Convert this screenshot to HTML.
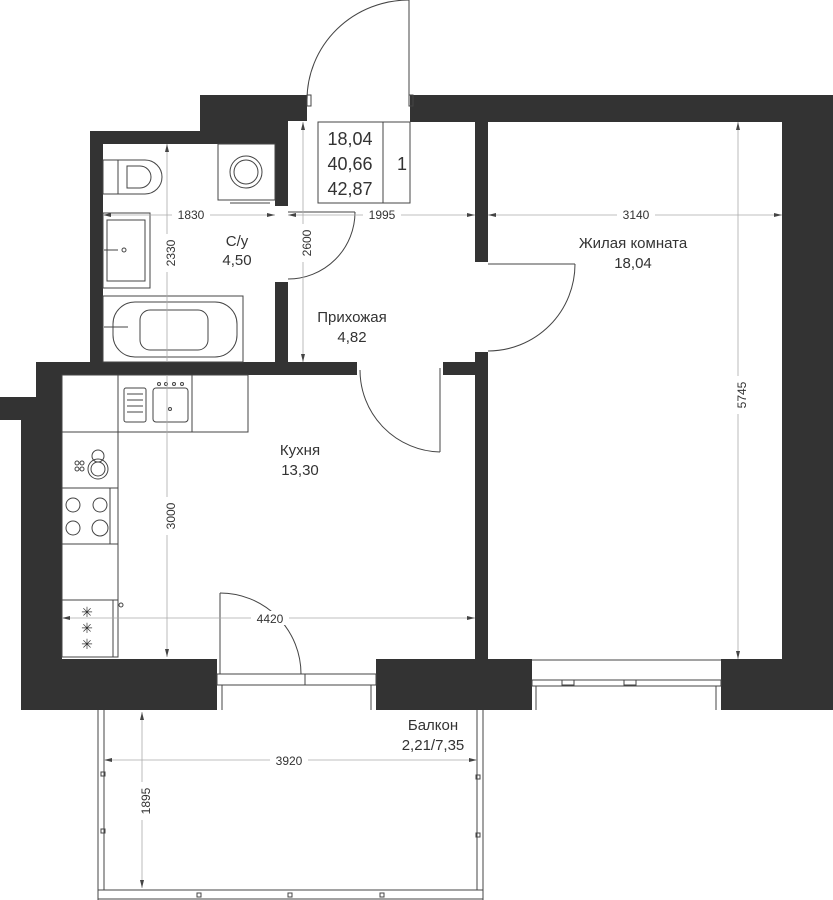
<!DOCTYPE html>
<html><head><meta charset="utf-8"><style>
html,body{margin:0;padding:0;background:#fff;}
svg{display:block;}
text{font-family:"Liberation Sans",sans-serif;fill:#333;}
</style></head><body>
<svg width="833" height="900" viewBox="0 0 833 900" xmlns="http://www.w3.org/2000/svg">
<g fill="#333">
  <!-- top-left block & bathroom -->
  <rect x="200" y="95" width="107" height="26"/>
  <rect x="90" y="131" width="198" height="13"/>
  <rect x="200" y="118" width="88" height="14"/>
  <rect x="90" y="131" width="13" height="231"/>
  <rect x="275" y="118" width="13" height="88"/>
  <rect x="275" y="282" width="13" height="80"/>
  <!-- top right wall -->
  <rect x="410" y="95" width="423" height="27"/>
  <rect x="782" y="95" width="51" height="615"/>
  <!-- partition hall/living -->
  <rect x="475" y="122" width="13" height="140"/>
  <rect x="475" y="352" width="13" height="308"/>
  <rect x="443" y="362" width="45" height="13"/>
  <!-- kitchen top wall -->
  <rect x="36" y="362" width="321" height="13"/>
  <rect x="36" y="362" width="26" height="36"/>
  <rect x="0" y="397" width="62" height="23"/>
  <rect x="21" y="397" width="41" height="313"/>
  <!-- bottom wall -->
  <rect x="21" y="659" width="196" height="51"/>
  <rect x="376" y="659" width="156" height="51"/>
  <rect x="721" y="659" width="112" height="51"/>
</g>
<g fill="none" stroke="#444" stroke-width="1">
  <!-- windows -->
  <rect x="217" y="674" width="159" height="11"/><line x1="305" y1="674" x2="305" y2="685"/>
  <line x1="222" y1="685" x2="222" y2="710"/><line x1="371" y1="685" x2="371" y2="710"/>
  <rect x="532" y="680" width="189" height="6"/>
  <line x1="532" y1="660" x2="721" y2="660"/>
  <line x1="536" y1="686" x2="536" y2="710"/><line x1="716" y1="686" x2="716" y2="710"/>
  <rect x="562" y="680" width="12" height="5"/><rect x="624" y="680" width="12" height="5"/>
  <!-- entry door -->
  <line x1="409" y1="0" x2="409" y2="100"/>
  <path d="M409 0 A102 100 0 0 0 307 100"/>
  <rect x="307" y="95" width="4" height="11"/><rect x="409" y="95" width="4" height="11"/>
  <!-- bathroom door -->
  <line x1="288" y1="212" x2="355" y2="212"/>
  <path d="M355 212 A67 67 0 0 1 288 279"/>
  <!-- living door -->
  <line x1="488" y1="264" x2="575" y2="264"/>
  <path d="M575 264 A87 87 0 0 1 488 351"/>
  <!-- hall->kitchen door -->
  <line x1="440" y1="368" x2="440" y2="452"/>
  <path d="M360 370 A82 82 0 0 0 440 452"/>
  <!-- kitchen balcony door -->
  <line x1="220" y1="593" x2="220" y2="674"/>
  <path d="M220 593 A81 81 0 0 1 301 674"/>
  <!-- info box -->
  <rect x="318" y="122" width="92" height="81"/><line x1="383" y1="122" x2="383" y2="203"/>
  <!-- toilet -->
  <rect x="103" y="160" width="15" height="34"/>
  <path d="M118 160 H145 A17 17 0 0 1 145 194 H118"/>
  <path d="M127 166 H140 A10 10 0 0 1 140 188 H127 Z"/>
  <!-- washing machine -->
  <rect x="218" y="144" width="57" height="56"/>
  <circle cx="246" cy="172" r="16"/><circle cx="246" cy="172" r="12"/>
  <line x1="230" y1="203" x2="270" y2="203"/>
  <!-- bathroom sink -->
  <rect x="103" y="213" width="47" height="75"/><rect x="107" y="220" width="38" height="61"/>
  <line x1="104" y1="250" x2="118" y2="250"/><circle cx="124" cy="250" r="2"/>
  <!-- bath -->
  <rect x="103" y="296" width="140" height="66"/>
  <rect x="113" y="302" width="124" height="55" rx="22"/>
  <rect x="140" y="310" width="68" height="40" rx="10"/>
  <line x1="104" y1="327" x2="128" y2="327"/>
  <!-- kitchen counter -->
  <rect x="62" y="375" width="186" height="57"/>
  <line x1="118" y1="375" x2="118" y2="432"/><line x1="192" y1="375" x2="192" y2="432"/>
  <rect x="124" y="388" width="22" height="34" rx="2"/>
  <line x1="127" y1="394" x2="143" y2="394"/><line x1="127" y1="400" x2="143" y2="400"/><line x1="127" y1="406" x2="143" y2="406"/><line x1="127" y1="412" x2="143" y2="412"/>
  <rect x="153" y="388" width="35" height="34" rx="3"/>
  <circle cx="170" cy="409" r="1.5"/>
  <circle cx="159" cy="384" r="1.5"/><circle cx="166" cy="384" r="1.5"/><circle cx="174" cy="384" r="1.5"/><circle cx="182" cy="384" r="1.5"/>
  <rect x="62" y="432" width="56" height="225"/>
  <line x1="62" y1="488" x2="118" y2="488"/><line x1="62" y1="544" x2="118" y2="544"/><line x1="62" y1="600" x2="118" y2="600"/>
  <circle cx="98" cy="469" r="10"/><circle cx="98" cy="469" r="7"/><circle cx="98" cy="456" r="6"/>
  <circle cx="77" cy="463" r="2"/><circle cx="82" cy="463" r="2"/><circle cx="77" cy="469" r="2"/><circle cx="82" cy="469" r="2"/>
  <line x1="110" y1="488" x2="110" y2="544"/>
  <circle cx="73" cy="505" r="7"/><circle cx="100" cy="505" r="7"/><circle cx="73" cy="528" r="7"/><circle cx="100" cy="528" r="8"/>
  <line x1="113" y1="600" x2="113" y2="657"/>
  <circle cx="121" cy="605" r="2"/>
  <!-- balcony -->
  <line x1="98" y1="710" x2="98" y2="890"/><line x1="104" y1="710" x2="104" y2="890"/>
  <line x1="477" y1="710" x2="477" y2="890"/><line x1="483" y1="710" x2="483" y2="900"/>
  <line x1="98" y1="890" x2="483" y2="890"/><line x1="98" y1="899" x2="483" y2="899"/><line x1="98" y1="890" x2="98" y2="900"/>
  <rect x="101" y="772" width="4" height="4"/><rect x="101" y="829" width="4" height="4"/>
  <rect x="476" y="775" width="4" height="4"/><rect x="476" y="833" width="4" height="4"/>
  <rect x="197" y="893" width="4" height="4"/><rect x="288" y="893" width="4" height="4"/><rect x="380" y="893" width="4" height="4"/>
</g>
<!-- kitchen asterisks -->
<g font-size="14" text-anchor="middle"><text x="87" y="617">✳</text><text x="87" y="633">✳</text><text x="87" y="649">✳</text></g>
<!-- dimension lines -->
<g stroke="#aaa" stroke-width="0.8" fill="none">
  <line x1="103" y1="215" x2="275" y2="215"/>
  <line x1="288" y1="215" x2="475" y2="215"/>
  <line x1="488" y1="215" x2="782" y2="215"/>
  <line x1="167" y1="144" x2="167" y2="362"/>
  <line x1="167" y1="375" x2="167" y2="657"/>
  <line x1="303" y1="122" x2="303" y2="362"/>
  <line x1="738" y1="122" x2="738" y2="659"/>
  <line x1="62" y1="618" x2="475" y2="618"/>
  <line x1="104" y1="760" x2="477" y2="760"/>
  <line x1="142" y1="712" x2="142" y2="888"/>
</g>
<g fill="#444">
  <path d="M103 215 l8 -2 v4z"/><path d="M275 215 l-8 -2 v4z"/>
  <path d="M288 215 l8 -2 v4z"/><path d="M475 215 l-8 -2 v4z"/>
  <path d="M488 215 l8 -2 v4z"/><path d="M782 215 l-8 -2 v4z"/>
  <path d="M167 144 l-2 8 h4z"/><path d="M167 657 l-2 -8 h4z"/>
  <path d="M303 122 l-2 8 h4z"/><path d="M303 362 l-2 -8 h4z"/>
  <path d="M738 122 l-2 8 h4z"/><path d="M738 659 l-2 -8 h4z"/>
  <path d="M62 618 l8 -2 v4z"/><path d="M475 618 l-8 -2 v4z"/>
  <path d="M104 760 l8 -2 v4z"/><path d="M477 760 l-8 -2 v4z"/>
  <path d="M142 712 l-2 8 h4z"/><path d="M142 888 l-2 -8 h4z"/>
</g>
<g font-size="12" text-anchor="middle">
  <rect x="172" y="208" width="38" height="14" fill="#fff"/><text x="191" y="219">1830</text>
  <rect x="363" y="208" width="38" height="14" fill="#fff"/><text x="382" y="219">1995</text>
  <rect x="617" y="208" width="38" height="14" fill="#fff"/><text x="636" y="219">3140</text>
  <rect x="251" y="611" width="38" height="14" fill="#fff"/><text x="270" y="623">4420</text>
  <rect x="270" y="753" width="38" height="14" fill="#fff"/><text x="289" y="765">3920</text>
  <g transform="translate(171,253) rotate(-90)"><rect x="-19" y="-8" width="38" height="14" fill="#fff"/><text x="0" y="4">2330</text></g>
  <g transform="translate(171,516) rotate(-90)"><rect x="-19" y="-8" width="38" height="14" fill="#fff"/><text x="0" y="4">3000</text></g>
  <g transform="translate(307,243) rotate(-90)"><rect x="-19" y="-8" width="38" height="14" fill="#fff"/><text x="0" y="4">2600</text></g>
  <g transform="translate(742,395) rotate(-90)"><rect x="-19" y="-8" width="38" height="14" fill="#fff"/><text x="0" y="4">5745</text></g>
  <g transform="translate(146,801) rotate(-90)"><rect x="-19" y="-8" width="38" height="14" fill="#fff"/><text x="0" y="4">1895</text></g>
</g>
<g font-size="15" text-anchor="middle">
  <text x="237" y="246">С/у</text><text x="237" y="265">4,50</text>
  <text x="352" y="322">Прихожая</text><text x="352" y="342">4,82</text>
  <text x="633" y="248">Жилая комната</text><text x="633" y="268">18,04</text>
  <text x="300" y="455">Кухня</text><text x="300" y="475">13,30</text>
  <text x="433" y="730">Балкон</text><text x="433" y="750">2,21/7,35</text>
</g>
<g font-size="18" text-anchor="middle">
  <text x="350" y="145">18,04</text><text x="350" y="170">40,66</text><text x="350" y="195">42,87</text>
  <text x="402" y="170">1</text>
</g>
</svg>
</body></html>
